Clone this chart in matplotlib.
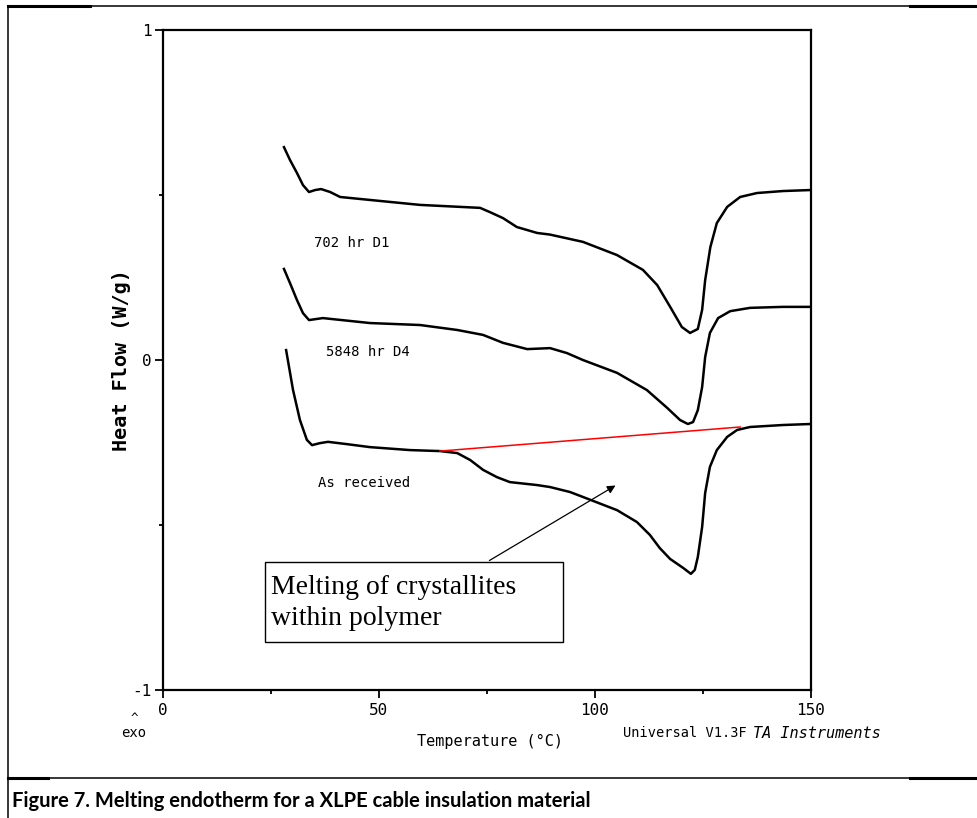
import matplotlib.pyplot as plt
from matplotlib.lines import Line2D
from matplotlib.patches import Rectangle

plt.rcParams["axes.unicode_minus"] = False

# DSC traces (temperature degC, heat flow W/g)
d1_temp = [28.0, 29.4, 31.0, 32.4, 33.8, 35.2, 36.6, 38.7, 41.0, 47.9, 59.5, 73.4, 75.7,
           78.7, 81.9, 86.6, 89.6, 97.2, 105.1, 111.1, 114.4, 117.4, 120.1, 122.0, 123.8,
           124.8, 125.5, 126.7, 128.2, 130.6, 133.6, 137.5, 143.5, 149.8]
d1_flow = [0.645, 0.606, 0.567, 0.530, 0.509, 0.515, 0.518, 0.509, 0.494, 0.485, 0.470,
           0.461, 0.448, 0.430, 0.403, 0.385, 0.380, 0.358, 0.318, 0.273, 0.227, 0.161,
           0.100, 0.082, 0.094, 0.152, 0.242, 0.342, 0.415, 0.464, 0.494, 0.506, 0.512,
           0.515]

d4_temp = [28.0, 29.4, 31.0, 32.4, 33.8, 37.0, 47.9, 59.5, 68.1, 74.1, 78.7, 84.3, 89.6,
           93.5, 97.2, 105.1, 112.0, 116.7, 119.7, 121.5, 122.7, 123.8, 124.8, 125.5,
           126.6, 128.5, 131.3, 135.9, 143.5, 149.8]
d4_flow = [0.276, 0.233, 0.182, 0.142, 0.121, 0.127, 0.112, 0.106, 0.091, 0.076, 0.052,
           0.033, 0.036, 0.021, 0.000, -0.039, -0.091, -0.145, -0.182, -0.194, -0.188,
           -0.152, -0.082, 0.009, 0.082, 0.127, 0.148, 0.158, 0.161, 0.161]

asrec_temp = [28.5, 30.1, 31.7, 33.3, 34.5, 36.3, 38.2, 42.6, 47.9, 57.2, 64.1, 68.1,
              71.1, 74.1, 77.3, 80.3, 86.6, 89.6, 94.2, 97.2, 105.1, 109.7, 112.7, 115.0,
              117.4, 120.4, 122.2, 123.1, 123.8, 124.8, 125.5, 126.6, 128.2, 130.6, 132.9,
              135.9, 143.5, 149.8]
asrec_flow = [0.030, -0.091, -0.182, -0.242, -0.258, -0.252, -0.248, -0.255, -0.264,
              -0.273, -0.276, -0.282, -0.303, -0.333, -0.355, -0.370, -0.379, -0.385,
              -0.400, -0.415, -0.455, -0.491, -0.530, -0.570, -0.603, -0.630, -0.648,
              -0.636, -0.597, -0.506, -0.403, -0.324, -0.273, -0.233, -0.212, -0.203,
              -0.197, -0.194]

# integration baseline drawn under the as-received peak
base_temp = [64.1, 133.6]
base_flow = [-0.276, -0.203]

curve_labels = ["702 hr D1", "5848 hr D4", "As received"]
label_pos = [(35.0, 0.355), (37.7, 0.024), (35.9, -0.373)]

x_ticks = [0, 50, 100, 150]
y_ticks = [-1, 0, 1]

mono = "DejaVu Sans Mono"

fig = plt.figure(figsize=(9.78, 8.18), dpi=100)
ax = fig.add_axes([163 / 978, 1 - 690 / 818, 648 / 978, 660 / 818])

ax.plot(d1_temp, d1_flow, color="black", lw=1.8)
ax.plot(d4_temp, d4_flow, color="black", lw=1.8)
ax.plot(asrec_temp, asrec_flow, color="black", lw=1.8)
ax.plot(base_temp, base_flow, color="red", lw=1.1)

for txt, (tx, ty) in zip(curve_labels, label_pos):
    ax.text(tx, ty, txt, family=mono, fontsize=10, va="center", ha="left")

ax.set_xlim(0, 150)
ax.set_ylim(-1, 1)
ax.set_xticks(x_ticks)
ax.set_yticks(y_ticks)
ax.set_xticks([25, 75, 125], minor=True)
ax.set_yticks([-0.5, 0.5], minor=True)
ax.tick_params(which="major", direction="out", length=6, width=1.3, labelsize=11.5)
ax.tick_params(which="minor", direction="out", length=3, width=1.3)
ax.tick_params(axis="y", pad=2)
for lab in ax.get_xticklabels() + ax.get_yticklabels():
    lab.set_family(mono)
for sp in ax.spines.values():
    sp.set_linewidth(1.6)

ax.set_ylabel("Heat Flow (W/g)", family=mono, fontsize=14.5, fontweight="bold", labelpad=1)

# annotation box and arrow
ax.annotate("", xy=(105.3, -0.376), xytext=(75.0, -0.612),
            arrowprops=dict(arrowstyle="-|>", color="black", lw=0.9, mutation_scale=12))
fig.add_artist(Rectangle((265 / 978, 1 - 642 / 818), 298 / 978, 80 / 818,
                         transform=fig.transFigure, fill=True, facecolor="white",
                         edgecolor="black", lw=1.0))
fig.text(271 / 978, 1 - 603 / 818, "Melting of crystallites\nwithin polymer",
         family="Liberation Serif", fontsize=20, va="center", ha="left", linespacing=1.3)

# text under the axis
fig.text(490 / 978, 1 - 741 / 818, "Temperature (°C)", family=mono, fontsize=11,
         ha="center", va="center")
fig.text(623 / 978, 1 - 733 / 818, "Universal V1.3F", family=mono, fontsize=9.8,
         ha="left", va="center")
fig.text(753 / 978, 1 - 733 / 818, "TA Instruments", family=mono, fontsize=11,
         style="italic", ha="left", va="center")
fig.text(134 / 978, 1 - 719 / 818, "^", family=mono, fontsize=9, ha="center", va="center")
fig.text(134 / 978, 1 - 733 / 818, "exo", family=mono, fontsize=10, ha="center", va="center")

# frame of the figure cell
def hline(y, x0, x1, lw):
    fig.add_artist(Line2D([x0 / 978, x1 / 978], [1 - y / 818, 1 - y / 818],
                          transform=fig.transFigure, color="black", lw=lw))

hline(6, 8, 978, 1.1)
hline(6, 8, 90, 2.2)
hline(6, 910, 978, 2.2)
hline(778, 8, 978, 1.1)
hline(778, 8, 48, 2.2)
hline(778, 910, 978, 2.2)
fig.add_artist(Line2D([8 / 978, 8 / 978], [0, 1 - 6 / 818], transform=fig.transFigure,
                      color="black", lw=1.1))

fig.text(12 / 978, 1 - 801 / 818,
         "Figure 7. Melting endotherm for a XLPE cable insulation material",
         family="Lato", fontweight="bold", fontsize=14.5, ha="left", va="center")

fig.savefig("out.png", dpi=100)
